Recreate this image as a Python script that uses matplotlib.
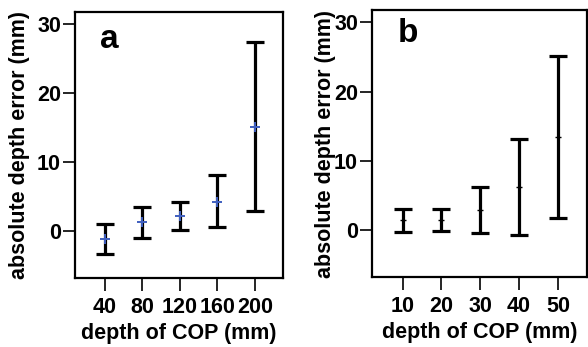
import matplotlib
matplotlib.use('Agg')
import matplotlib.pyplot as plt
import numpy as np

plt.rcParams['font.family'] = ['Liberation Sans', 'DejaVu Sans']
plt.rcParams['font.weight'] = 'bold'

# panel a: depth of COP 40-200 mm
depth_a = [40, 80, 120, 160, 200]
mean_a = [-1.2, 1.3, 2.2, 4.3, 15.1]
upper_a = [1.05, 3.5, 4.3, 8.1, 27.4]
lower_a = [-3.25, -0.95, 0.1, 0.55, 2.9]

# panel b: depth of COP 10-50 mm
depth_b = [10, 20, 30, 40, 50]
mean_b = [1.45, 1.45, 2.9, 6.2, 13.4]
upper_b = [3.05, 3.05, 6.2, 13.2, 25.1]
lower_b = [-0.35, -0.15, -0.4, -0.75, 1.7]

W, H = 588, 347
fig = plt.figure(figsize=(W / 100, H / 100), dpi=100)


def box(l, t, r, b):
    return [l / W, 1 - b / H, (r - l) / W, (b - t) / H]


def style(ax, xticks, xlim, ypad):
    ax.set_xlim(*xlim)
    ax.set_ylim(-6.8, 31.8)
    ax.set_xticks(xticks)
    ax.set_yticks([0, 10, 20, 30])
    for s in ax.spines.values():
        s.set_linewidth(1.6)
    ax.tick_params(axis='both', direction='out', length=9, width=1.2,
                   labelsize=15.5, pad=1)
    ax.tick_params(axis='x', pad=5)
    ax.set_xlabel('depth of COP (mm)', fontsize=15.5, fontweight='bold', labelpad=3)
    ax.set_ylabel('absolute depth error (mm)', fontsize=15.5, fontweight='bold', labelpad=ypad)


ax1 = fig.add_axes(box(75, 12, 283, 278))
m = np.array(mean_a)
yerr = [m - np.array(lower_a), np.array(upper_a) - m]
ax1.errorbar(depth_a, mean_a, yerr=yerr, fmt='none', ecolor='black',
             elinewidth=2.3, capsize=6.5, capthick=2.3)
ax1.plot(depth_a, mean_a, linestyle='none', marker='+', color='#3f5fbf',
         markersize=7, markeredgewidth=1.4)
style(ax1, depth_a, (8, 230), 5)
ax1.text(0.12, 0.955, 'a', transform=ax1.transAxes, fontsize=24,
         fontweight='bold', va='top', ha='left')

ax2 = fig.add_axes(box(372, 10, 587, 277))
m = np.array(mean_b)
yerr = [m - np.array(lower_b), np.array(upper_b) - m]
ax2.errorbar(depth_b, mean_b, yerr=yerr, fmt='none', ecolor='black',
             elinewidth=2.3, capsize=6.5, capthick=2.3)
ax2.plot(depth_b, mean_b, linestyle='none', marker='_', color='black',
         markersize=5, markeredgewidth=1.0)
style(ax2, depth_b, (2.1, 57.5), -1)
ax2.text(0.12, 0.97, 'b', transform=ax2.transAxes, fontsize=24,
         fontweight='bold', va='top', ha='left')

fig.savefig('out.png', dpi=100)
